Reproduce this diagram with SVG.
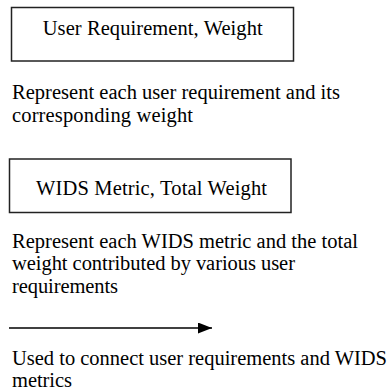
<svg xmlns="http://www.w3.org/2000/svg" width="388" height="391" viewBox="0 0 388 391">
<style>
text{font-family:'Liberation Serif','Times New Roman',serif;font-size:20.5px;fill:#000}
.box{fill:#fff;stroke:#222;stroke-width:1.5}
</style>
<defs>
<marker id="ah" markerWidth="14" markerHeight="11" refX="14" refY="5.5" orient="auto" markerUnits="userSpaceOnUse">
<path d="M0,0 L14,5.5 L0,11 Z" fill="#000"/>
</marker>
</defs>
<rect width="388" height="391" fill="#fff"/>
<g id="node-user-requirement">
<rect class="box" x="11.5" y="7.5" width="282" height="53.5"/>
<text x="42.7" y="35" textLength="220" lengthAdjust="spacing">User Requirement, Weight</text>
</g>
<g id="desc-user-requirement">
<text x="12" y="99" textLength="328" lengthAdjust="spacing">Represent each user requirement and its</text>
<text x="12" y="121.5" textLength="181" lengthAdjust="spacing">corresponding weight</text>
</g>
<g id="node-wids-metric">
<rect class="box" x="9.5" y="159" width="281.5" height="53.5"/>
<text x="36" y="195" textLength="231" lengthAdjust="spacing">WIDS Metric, Total Weight</text>
</g>
<g id="desc-wids-metric">
<text x="12" y="247.5" textLength="346" lengthAdjust="spacing">Represent each WIDS metric and the total</text>
<text x="12" y="270" textLength="283" lengthAdjust="spacing">weight contributed by various user</text>
<text x="12" y="292.5" textLength="106" lengthAdjust="spacing">requirements</text>
</g>
<g id="connectors">
<line x1="9" y1="328" x2="212" y2="328" stroke="#000" stroke-width="1.5" marker-end="url(#ah)"/>
</g>
<g id="desc-connector">
<text x="12" y="365" textLength="375" lengthAdjust="spacing">Used to connect user requirements and WIDS</text>
<text x="12" y="387" textLength="60" lengthAdjust="spacing">metrics</text>
</g>
</svg>
